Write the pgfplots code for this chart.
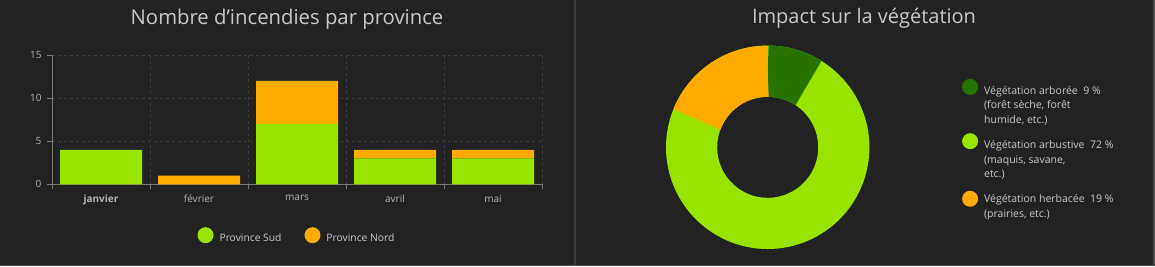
\documentclass[border=0pt]{standalone}
\usepackage{pgfplots}
\pgfplotsset{compat=1.18}
\usepackage{pgfplotstable}
\usepackage{fontspec}
\setmainfont{Open Sans}
\definecolor{bg}{HTML}{222222}
\definecolor{sud}{HTML}{98E300}
\definecolor{nord}{HTML}{FFAA00}
\definecolor{arbo}{HTML}{267300}
\definecolor{txt}{HTML}{C8C8C8}
\definecolor{tickc}{HTML}{B4B4B4}
\definecolor{gridc}{HTML}{3E3E3E}
\definecolor{axc}{HTML}{7A7A7A}
\definecolor{divc}{HTML}{3C3C3C}

\pgfplotstableread{
cat sud nord
0 4 0
1 0 1
2 7 5
3 3 1
4 3 1
}\bartable

\pgfplotstableread{
label value
arboree 9
arbustive 72
herbacee 19
}\vegtable

\pgfplotsset{myoff/.initial=0pt}
\newcommand{\lentry}[1]{{\renewcommand{\arraystretch}{1.175}\begin{tabular}{@{}l@{}}#1\end{tabular}}}

\begin{document}
\begin{tikzpicture}
\path[use as bounding box] (0pt,0pt) rectangle (1155pt,266pt);
\fill[bg] (0pt,0pt) rectangle (1155pt,266pt);
\fill[divc] (573.5pt,0pt) rectangle (575.5pt,266pt);
\fill[black!70] (0pt,0pt) rectangle (1155pt,1.5pt);
\fill[black!70] (1153pt,0pt) rectangle (1155pt,266pt);

\node[anchor=base, text=txt, font=\fontsize{20.3}{24}\selectfont] at (287pt,242pt) {Nombre d'incendies par province};
\node[anchor=base, text=txt, font=\fontsize{20}{24}\selectfont] at (864pt,242.5pt) {Impact sur la végétation};

\begin{axis}[
  at={(52pt,81.7pt)}, anchor=south west,
  scale only axis, width=490pt, height=129.3pt,
  xmin=-0.5, xmax=4.5, ymin=0, ymax=15,
  ybar stacked, bar width=82pt,
  axis x line*=bottom, axis y line*=left,
  axis line style={axc, -, line width=0.8pt},
  xtick={0,1,2,3,4},
  xticklabels={\textbf{janvier}, février, mars, avril, mai},
  minor xtick={-0.5,0.5,1.5,2.5,3.5,4.5},
  ytick={0,5,10,15},
  ymajorgrids, xminorgrids,
  major grid style={gridc, dashed, line width=0.6pt},
  minor grid style={gridc, dashed, line width=0.6pt},
  tick align=outside,
  major tick length=5pt, minor tick length=5pt,
  major x tick style={draw=none},
  tick style={axc, line width=0.8pt},
  /pgf/number format/assume math mode=true,
  ticklabel style={text=tickc, font=\fontsize{10}{12}\selectfont},
  xticklabel style={yshift=-2pt},
  yticklabel style={xshift=-2pt},
  legend style={at={(0.5,-0.40)}, anchor=center, draw=none, fill=none,
    text=txt, font=\fontsize{10.3}{12}\selectfont,
    legend columns=2,
    /tikz/every even column/.append style={column sep=21pt}},
  legend image code/.code={\fill[#1,draw=none] (0pt,3pt) circle (8pt); \path (12pt,0pt);},
]
\addplot[fill=sud, draw=none] table[x=cat, y=sud] {\bartable};
\addplot[fill=nord, draw=none] table[x=cat, y=nord] {\bartable};
\legend{Province Sud, Province Nord}
\end{axis}

\pgfplotstablegetelem{0}{value}\of\vegtable \let\va\pgfplotsretval
\pgfplotstablegetelem{1}{value}\of\vegtable \let\vb\pgfplotsretval
\pgfplotstablegetelem{2}{value}\of\vegtable \let\vc\pgfplotsretval
\pgfmathsetmacro{\aA}{90}
\pgfmathsetmacro{\aB}{90-3.6*\va}
\pgfmathsetmacro{\aC}{\aB-3.6*\vb}
\pgfmathsetmacro{\aD}{\aC-3.6*\vc}

\begin{axis}[
  at={(767.7pt,118.7pt)}, anchor=center,
  scale only axis, width=203.4pt, height=203.4pt,
  xmin=-1, xmax=1, ymin=-1, ymax=1, hide axis,
  legend style={at={(1.44,0.833)}, anchor=north west, draw=none, fill=none,
    text=txt, font=\fontsize{10.5}{12.5}\selectfont,
    row sep=24pt},
  legend cell align=left,
  legend image code/.code={\fill[#1,draw=none,overlay] (0pt,\pgfkeysvalueof{/pgfplots/myoff}) circle (8pt); \path (-8pt,0pt) (12pt,0pt);},
]
\draw[sud, line width=51.2pt] (axis cs:0,0) circle[radius=76.1pt];
\draw[arbo, line width=51.2pt] (axis cs:0,0) ++(\aA:76.1pt) arc[start angle=\aA, end angle=\aB, radius=76.1pt];
\draw[nord, line width=51.2pt] (axis cs:0,0) ++(\aC:76.1pt) arc[start angle=\aC, end angle=\aD, radius=76.1pt];
\addlegendimage{fill=arbo, draw=none, /pgfplots/myoff=10pt}
\addlegendentry{\lentry{Végétation arborée~~9~\%\\(forêt sèche, forêt\\humide, etc.)}}
\addlegendimage{fill=sud, draw=none, /pgfplots/myoff=10pt}
\addlegendentry{\lentry{Végétation arbustive~~72~\%\\(maquis, savane,\\etc.)}}
\addlegendimage{fill=nord, draw=none, /pgfplots/myoff=3pt}
\addlegendentry{\lentry{Végétation herbacée~~19~\%\\(prairies, etc.)}}
\end{axis}
\end{tikzpicture}
\end{document}
